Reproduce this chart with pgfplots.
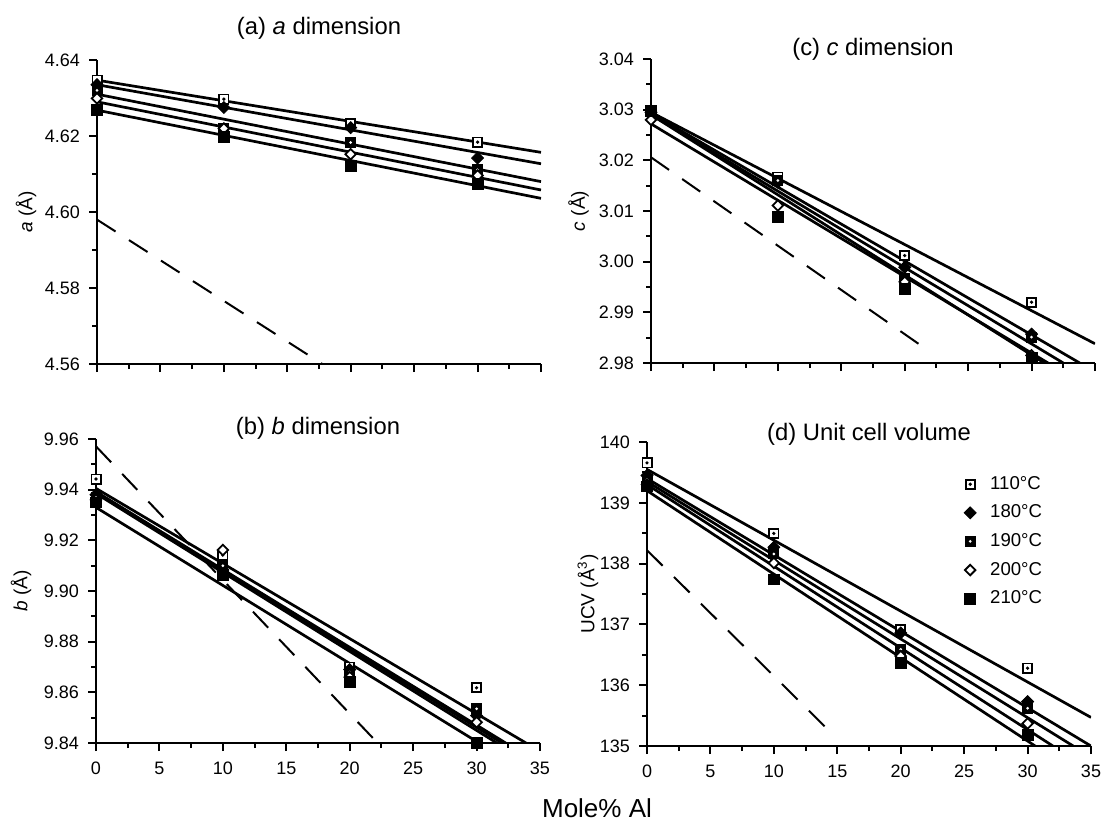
\documentclass[border=0pt]{standalone}
\usepackage{fontspec}
\setmainfont{Liberation Sans}
\usepackage{pgfplots}
\pgfplotsset{compat=1.18}

\pgfdeclareplotmark{sqdot}{%
  \pgfpathrectangle{\pgfqpoint{-\pgfplotmarksize}{-\pgfplotmarksize}}{\pgfqpoint{2\pgfplotmarksize}{2\pgfplotmarksize}}%
  \pgfusepathqfillstroke
  \begin{pgfscope}%
  \pgfsetfillcolor{black}%
  \pgfpathcircle{\pgfpointorigin}{0.4\pgfplotmarksize}%
  \pgfusepathqfill
  \end{pgfscope}%
}
\pgfdeclareplotmark{sqwdot}{%
  \pgfpathrectangle{\pgfqpoint{-\pgfplotmarksize}{-\pgfplotmarksize}}{\pgfqpoint{2\pgfplotmarksize}{2\pgfplotmarksize}}%
  \pgfusepathqfillstroke
  \begin{pgfscope}%
  \pgfsetfillcolor{white}%
  \pgfpathcircle{\pgfpointorigin}{0.3\pgfplotmarksize}%
  \pgfusepathqfill
  \end{pgfscope}%
}
\pgfdeclareplotmark{dmd}{%
  \pgfpathmoveto{\pgfqpoint{0pt}{1.25\pgfplotmarksize}}%
  \pgfpathlineto{\pgfqpoint{1.25\pgfplotmarksize}{0pt}}%
  \pgfpathlineto{\pgfqpoint{0pt}{-1.25\pgfplotmarksize}}%
  \pgfpathlineto{\pgfqpoint{-1.25\pgfplotmarksize}{0pt}}%
  \pgfpathclose
  \pgfusepathqfillstroke
}

\pgfplotsset{
  panel/.style={
    scale only axis, width=222pt, height=152pt,
    anchor=south west,
    axis x line*=bottom, axis y line*=left,
    axis line style={line width=1.1pt,-},
    tick align=outside, major tick length=4pt, minor tick length=2.5pt,
    every tick/.style={line width=1pt, black},
    xmin=0, xmax=35, xtick={0,5,...,35}, minor x tick num=1, minor y tick num=1,
    tick label style={font=\fontsize{9}{10}\selectfont},
    /pgf/number format/assume math mode=true,
    label style={font=\fontsize{9.5}{11}\selectfont},
    title style={font=\fontsize{11.9}{13}\selectfont, at={(0.5,1)}, anchor=center},
    xticklabel style={yshift=-2pt},
    yticklabel style={xshift=-1pt},
  },
  ylab/.style={ylabel style={at={(axis description cs:#1,0.5)}, anchor=center}},
  yfix/.style={yticklabel style={/pgf/number format/.cd, fixed, fixed zerofill, precision=2}},
  fit/.style={no marks, line width=1.35pt, black, solid, forget plot},
  dsh/.style={no marks, line width=1pt, black, dash pattern=on 11pt off 8pt, forget plot},
  s110/.style={only marks, mark=sqdot, mark size=2.3pt, mark options={fill=white, draw=black, line width=0.9pt, solid}},
  s180/.style={only marks, mark=dmd, mark size=2.4pt, mark options={fill=black, draw=black, line width=0.4pt, solid}},
  s190/.style={only marks, mark=sqwdot, mark size=2.5pt, mark options={fill=black, draw=black, line width=0.4pt, solid}},
  s200/.style={only marks, mark=dmd, mark size=2.1pt, mark options={fill=white, draw=black, line width=0.9pt, solid}},
  s210/.style={only marks, mark=square*, mark size=2.7pt, mark options={fill=black, draw=black, solid}},
}

\begin{document}
\begin{tikzpicture}
\useasboundingbox (0,0) rectangle (551pt,413.5pt);

% (a)
\begin{axis}[panel, yfix, ylab=-0.16, at={(48.5pt,231.5pt)},
  ymin=4.56, ymax=4.64, ytick={4.56,4.58,...,4.641}, xticklabels={},
  ylabel={\textit{a} (Å)},
  title={(a) \textit{a} dimension}, title style={yshift=10pt}]
\addplot[fit] coordinates {(0,4.6347) (35,4.6157)};
\addplot[fit] coordinates {(0,4.6335) (35,4.6127)};
\addplot[fit] coordinates {(0,4.6310) (35,4.6080)};
\addplot[fit] coordinates {(0,4.6290) (35,4.6058)};
\addplot[fit] coordinates {(0,4.6268) (35,4.6036)};
\addplot[dsh] coordinates {(0,4.5980) (17.76,4.56)};
\addplot[s110] coordinates {(0,4.6347) (10,4.6297) (20,4.6233) (30,4.6184)};
\addplot[s180] coordinates {(0,4.6335) (10,4.6275) (20,4.6222) (30,4.6142)};
\addplot[s190] coordinates {(0,4.6320) (10,4.6219) (20,4.6183) (30,4.6111)};
\addplot[s200] coordinates {(0,4.6299) (10,4.6220) (20,4.6152) (30,4.6096)};
\addplot[s210] coordinates {(0,4.6269) (10,4.6198) (20,4.6122) (30,4.6073)};
\end{axis}

% (c)
\begin{axis}[panel, yfix, ylab=-0.163, at={(325.5pt,232pt)},
  ymin=2.98, ymax=3.04, ytick={2.98,2.99,...,3.041}, xticklabels={},
  ylabel={\textit{c} (Å)},
  title={(c) \textit{c} dimension}, title style={yshift=-1pt}]
\addplot[fit] coordinates {(0,3.0295) (35,2.9838)};
\addplot[fit] coordinates {(0,3.0293) (33.8,2.98)};
\addplot[fit] coordinates {(0,3.0290) (32.5,2.98)};
\addplot[fit] coordinates {(0,3.0290) (31.0,2.98)};
\addplot[fit] coordinates {(0,3.0272) (31.3,2.98)};
\addplot[dsh] coordinates {(0,3.0206) (22.0,2.9822)};
\addplot[s110] coordinates {(0,3.0297) (10,3.0167) (20,3.0012) (30,2.9920)};
\addplot[s180] coordinates {(0,3.0295) (10,3.0157) (20,2.9989) (30,2.9857)};
\addplot[s190] coordinates {(0,3.0298) (10,3.0160) (20,2.9966) (30,2.9851)};
\addplot[s200] coordinates {(0,3.0280) (10,3.0111) (20,2.9960) (30,2.9815)};
\addplot[s210] coordinates {(0,3.0298) (10,3.0089) (20,2.9947) (30,2.9810)};
\end{axis}

% (b)
\begin{axis}[panel, yfix, ylab=-0.169, at={(48pt,42pt)},
  ymin=9.84, ymax=9.96, ytick={9.84,9.86,...,9.961},
  ylabel={\textit{b} (Å)},
  title={(b) \textit{b} dimension}, title style={yshift=-0.5pt}]
\addplot[fit] coordinates {(0,9.9405) (33.9,9.84)};
\addplot[fit] coordinates {(0,9.9392) (32.3,9.84)};
\addplot[fit] coordinates {(0,9.9390) (32.0,9.84)};
\addplot[fit] coordinates {(0,9.9385) (31.6,9.84)};
\addplot[fit] coordinates {(0,9.9330) (30.2,9.84)};
\addplot[dsh] coordinates {(0,9.9571) (22.2,9.84)};
\addplot[s110] coordinates {(0,9.9442) (10,9.9142) (20,9.8700) (30,9.8618)};
\addplot[s180] coordinates {(0,9.9380) (10,9.9083) (20,9.8690) (30,9.8508)};
\addplot[s190] coordinates {(0,9.9370) (10,9.9100) (20,9.8680) (30,9.8535)};
\addplot[s200] coordinates {(0,9.9360) (10,9.9162) (20,9.8660) (30,9.8482)};
\addplot[s210] coordinates {(0,9.9350) (10,9.9063) (20,9.8640) (30,9.8402)};
\end{axis}

% (d)
\begin{axis}[panel, ylab=-0.133, at={(323.5pt,40.5pt)},
  ymin=135, ymax=140, ytick={135,136,...,140},
  ylabel={UCV (Å\textsuperscript{3})},
  title={(d) Unit cell volume}, title style={yshift=-2pt},
  legend style={draw=none, fill=none, at={(0.70,0.915)}, anchor=north west,
    font=\fontsize{9.3}{11}\selectfont, row sep=2.3pt,
    /tikz/every odd column/.append style={column sep=5pt}},
  legend cell align=left]
\addplot[fit] coordinates {(0,139.55) (35,135.47)};
\addplot[fit] coordinates {(0,139.40) (35,135.0)};
\addplot[fit] coordinates {(0,139.35) (33.6,135.0)};
\addplot[fit] coordinates {(0,139.30) (32.0,135.0)};
\addplot[fit] coordinates {(0,139.20) (30.6,135.0)};
\addplot[dsh] coordinates {(0,138.22) (14.6,135.2)};
\addplot[s110] coordinates {(0,139.657) (10,138.496) (20,136.92) (30,136.28)};
\addlegendentry{110\textdegree C}
\addplot[s180] coordinates {(0,139.45) (10,138.27) (20,136.86) (30,135.73)};
\addlegendentry{180\textdegree C}
\addplot[s190] coordinates {(0,139.38) (10,138.16) (20,136.59) (30,135.62)};
\addlegendentry{190\textdegree C}
\addplot[s200] coordinates {(0,139.30) (10,138.01) (20,136.48) (30,135.37)};
\addlegendentry{200\textdegree C}
\addplot[s210] coordinates {(0,139.27) (10,137.74) (20,136.37) (30,135.18)};
\addlegendentry{210\textdegree C}
\end{axis}

\node[font=\fontsize{13}{15}\selectfont] at (298.5pt,9.5pt) {Mole\% Al};
\end{tikzpicture}
\end{document}
